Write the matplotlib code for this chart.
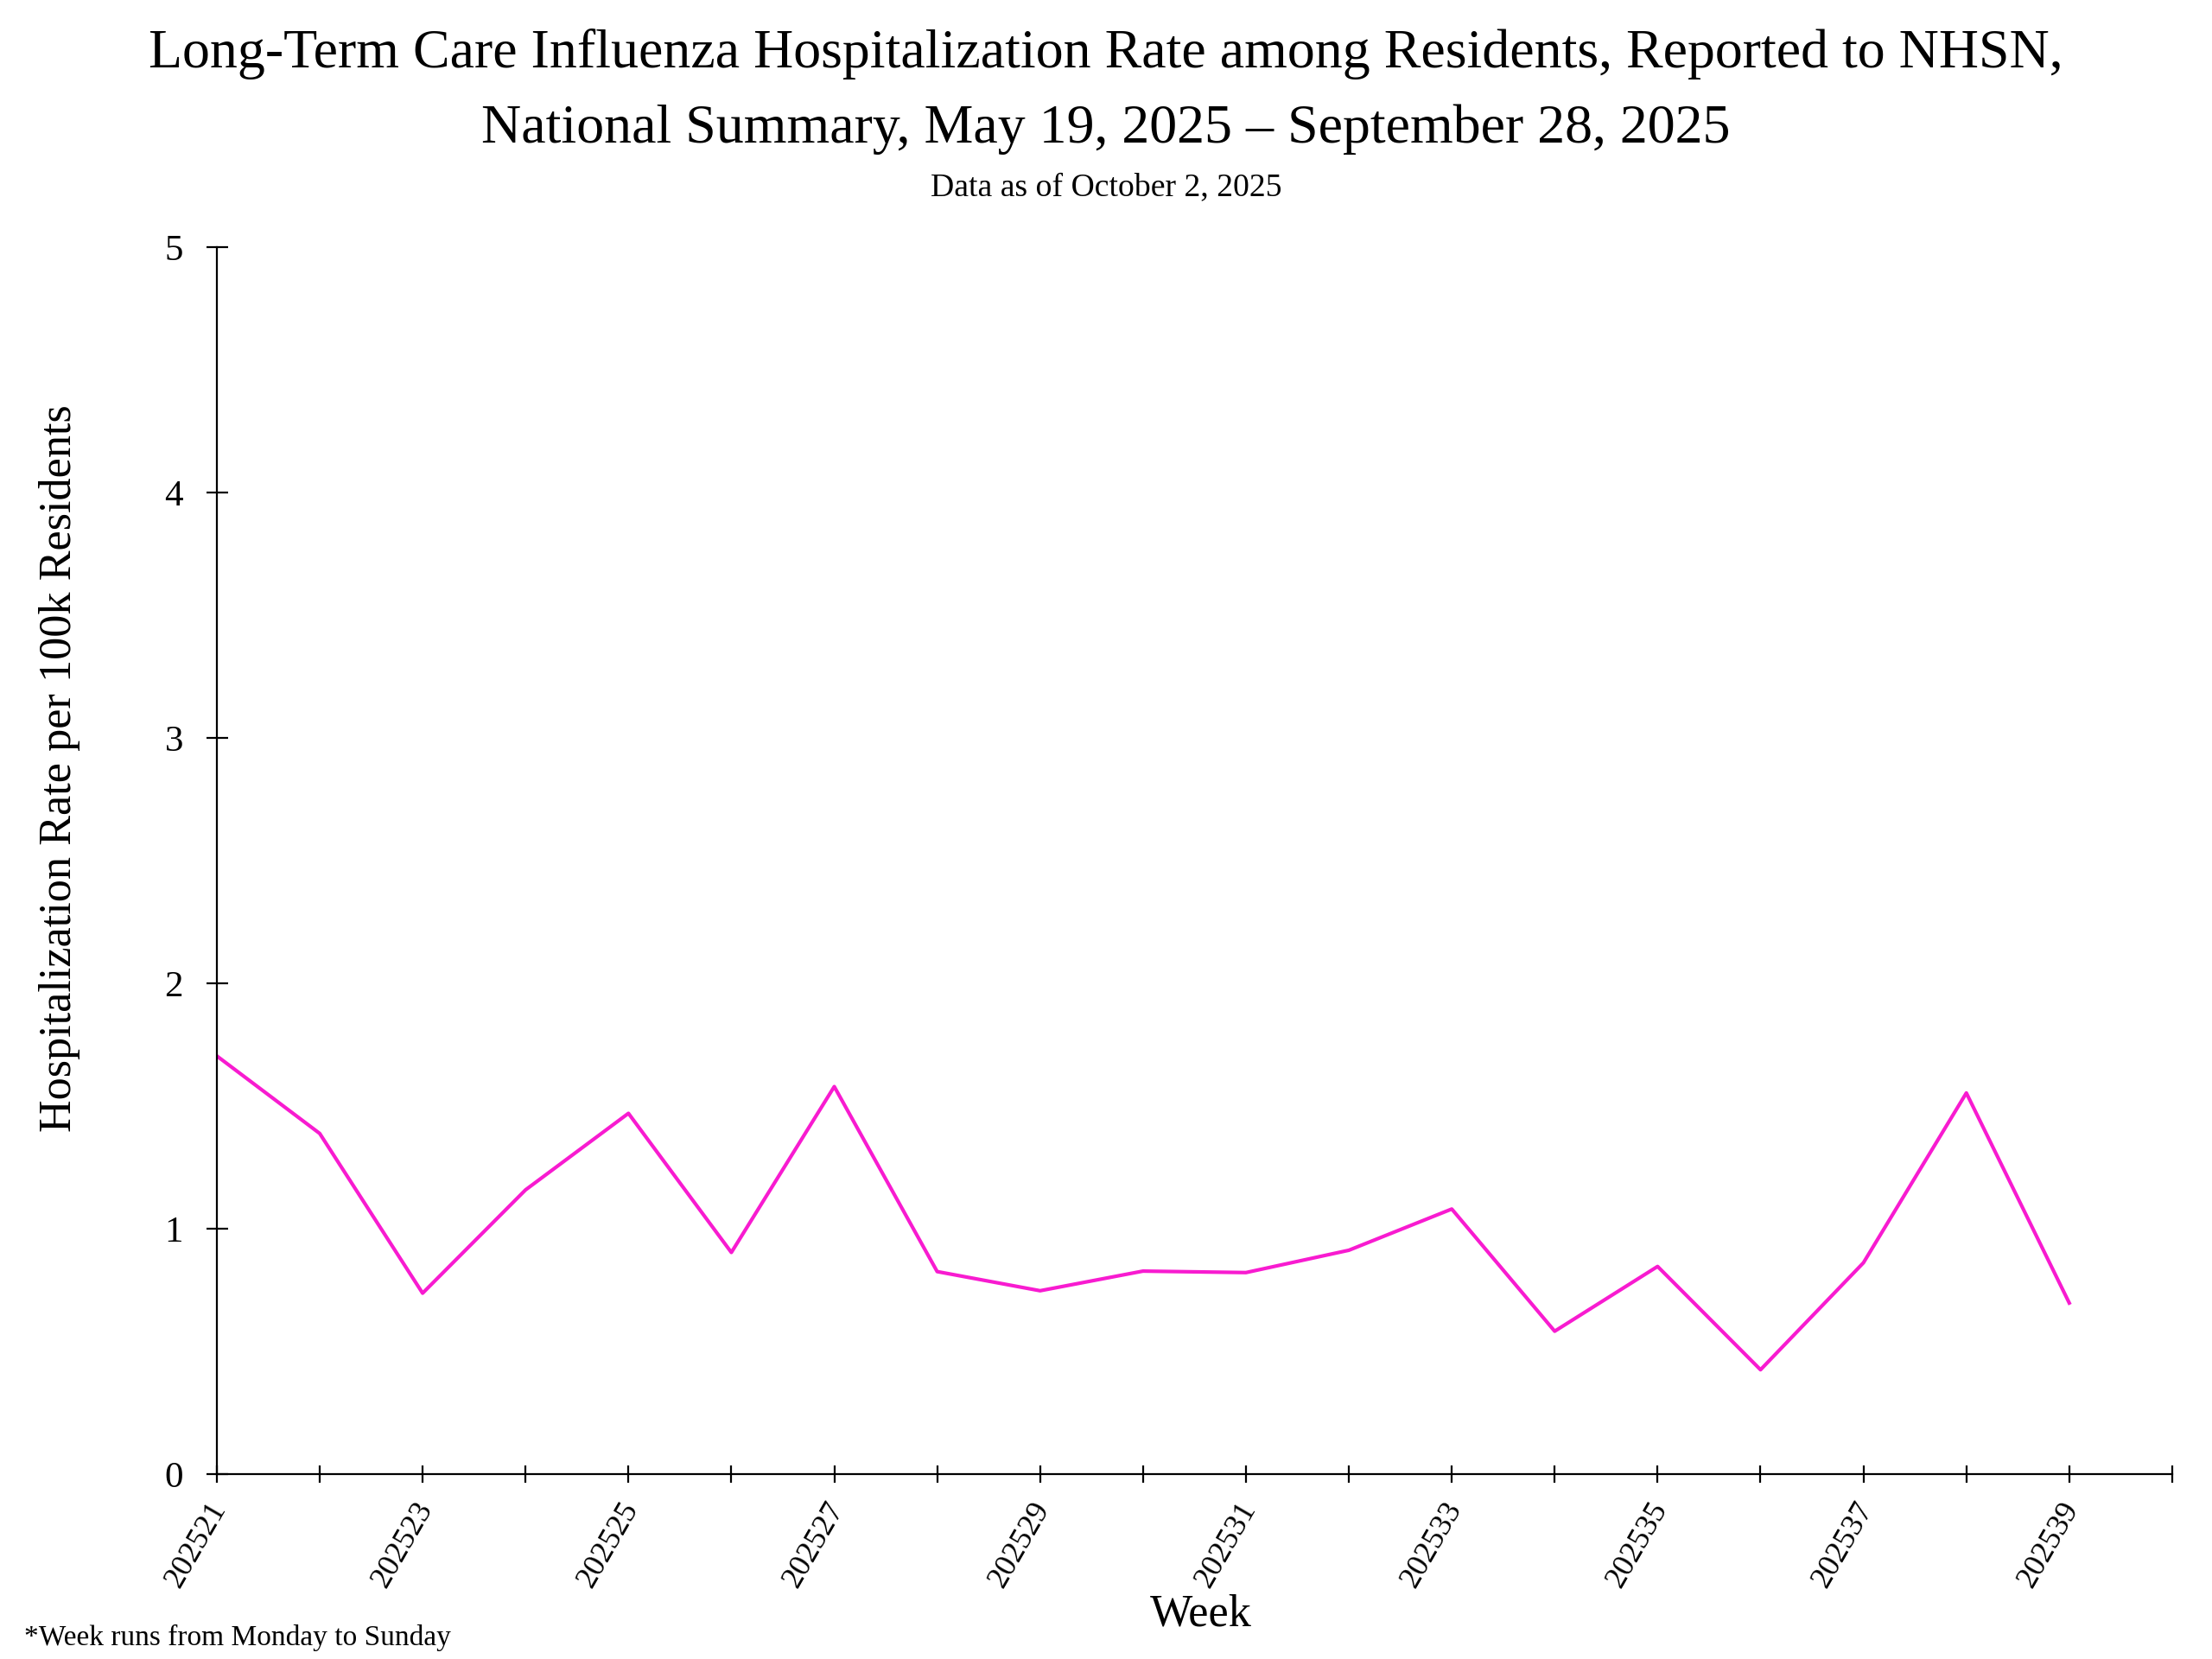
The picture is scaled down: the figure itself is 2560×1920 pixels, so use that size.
import numpy as np
import matplotlib.pyplot as plt
import matplotlib.transforms as mtransforms

# weekly rates (weeks 202521..202539)
weeks = list(range(21, 40))
rates = [1.704, 1.388, 0.737, 1.158, 1.470, 0.903, 1.579, 0.825, 0.747, 0.827,
         0.821, 0.912, 1.080, 0.582, 0.846, 0.425, 0.861, 1.553, 0.697]
tick_weeks = list(range(21, 41))
label_weeks = list(range(21, 40, 2))

plt.rcParams['font.family'] = ['Liberation Serif', 'DejaVu Serif']

fig = plt.figure(figsize=(12.8, 9.6), dpi=200)
ax = fig.add_axes([0.098, 0.1115, 0.884, 0.7395])

ax.plot(weeks, rates, color='#F81BD0', lw=1.5)

ax.set_xlim(21, 40)
ax.set_ylim(0, 5)
ax.set_yticks([0, 1, 2, 3, 4, 5])
ax.set_xticks(tick_weeks)
ax.set_xticklabels(['2025%d' % w if w in label_weeks else '' for w in tick_weeks],
                   rotation=60, ha='right', va='baseline', rotation_mode='anchor', fontsize=13)
ax.tick_params(axis='y', labelsize=15.5, direction='inout', length=9, width=0.8, pad=9.5)
ax.tick_params(axis='x', direction='inout', length=7.5, width=0.8, pad=10.4)

# nudge the rotated week labels a little to the right, as in the original
shift = mtransforms.ScaledTranslation(4 / 72, 0, fig.dpi_scale_trans)
for lab in ax.get_xticklabels():
    lab.set_transform(lab.get_transform() + shift)

for s in ['top', 'right']:
    ax.spines[s].set_visible(False)
for s in ['left', 'bottom']:
    ax.spines[s].set_linewidth(0.8)

fig.text(0.5, 0.9677, 'Long-Term Care Influenza Hospitalization Rate among Residents, Reported to NHSN,',
         ha='center', va='center', fontsize=23)
fig.text(0.5, 0.9218, 'National Summary, May 19, 2025 \u2013 September 28, 2025',
         ha='center', va='center', fontsize=23)
fig.text(0.5, 0.887, 'Data as of October 2, 2025', ha='center', va='center', fontsize=13.6)

fig.text(0.0268, 0.537, 'Hospitalization Rate per 100k Residents', rotation=90,
         ha='center', va='center', fontsize=18.8)
fig.text(0.543, 0.027, 'Week', ha='center', va='center', fontsize=18.8)
fig.text(0.011, 0.013, '*Week runs from Monday to Sunday', ha='left', va='center', fontsize=12)

fig.savefig('out.png', dpi=200)
